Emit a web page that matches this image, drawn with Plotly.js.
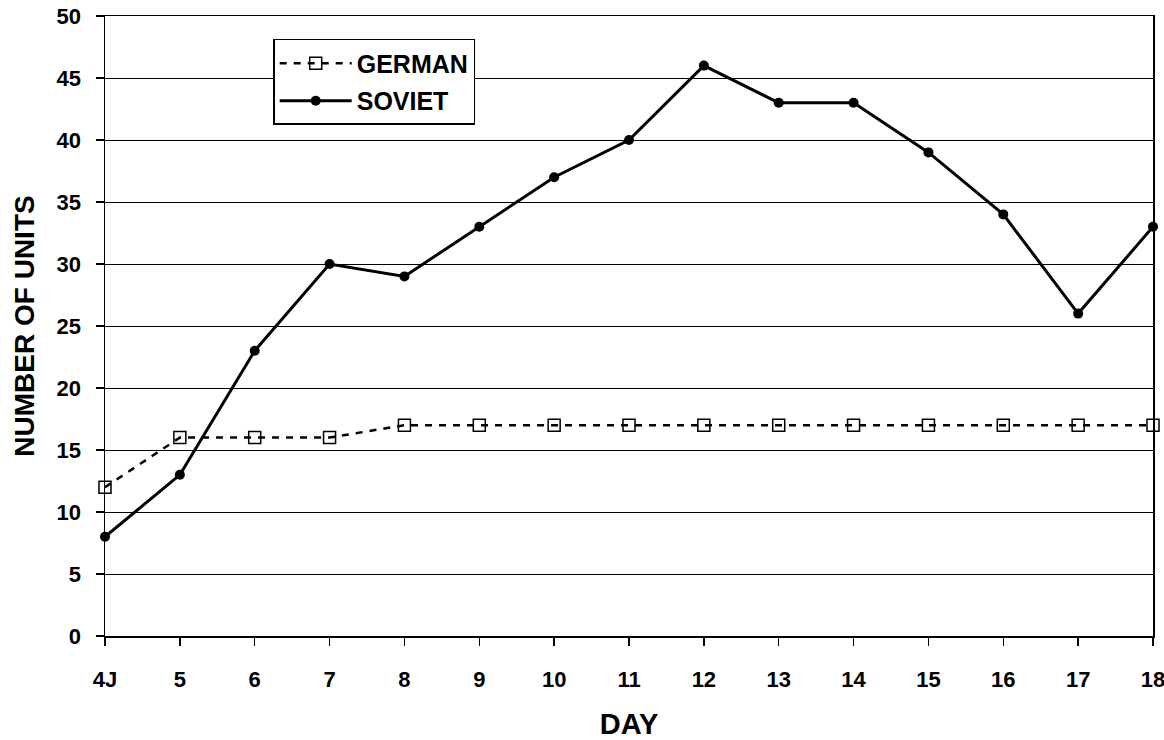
<!DOCTYPE html>
<html>
<head>
<meta charset="utf-8">
<script src="https://cdn.plot.ly/plotly-3.0.1.min.js"></script>
<style>html,body{margin:0;padding:0;background:#fff;}#chart{width:1164px;height:740px;}</style>
</head>
<body>
<div id="chart"></div>
<script>
var days = ["4J","5","6","7","8","9","10","11","12","13","14","15","16","17","18"];
var german = [12,16,16,16,17,17,17,17,17,17,17,17,17,17,17];
var soviet = [8,13,23,30,29,33,37,40,46,43,43,39,34,26,33];
var yTicks = [0,5,10,15,20,25,30,35,40,45,50];

var font = "Liberation Sans, Arial, sans-serif";
var traces = [
  {x: days, y: german, name: "GERMAN", type: "scatter", mode: "lines+markers",
   legendgroup: "g", cliponaxis: false,
   line: {color: "#000", width: 2.5, dash: "7px,7px"},
   marker: {symbol: "square-open", size: 12, color: "#000", line: {width: 1.5, color: "#000"}}},
  {x: days, y: soviet, name: "SOVIET", type: "scatter", mode: "lines+markers",
   legendgroup: "s", cliponaxis: false,
   line: {color: "#000", width: 3},
   marker: {symbol: "circle", size: 10, color: "#000"}}
];
var layout = {
  width: 1164, height: 740,
  margin: {l: 105, r: 11, t: 16, b: 104},
  paper_bgcolor: "#fff", plot_bgcolor: "#fff",
  font: {family: font, color: "#000", size: 20},
  showlegend: true,
  legend: {x: 0.1605, y: 0.963, xanchor: "left", yanchor: "top",
    bgcolor: "#fff", bordercolor: "#000", borderwidth: 1.5,
    font: {family: font, size: 25, color: "#000", weight: "bold"},
    itemwidth: 72, traceorder: "grouped", tracegroupgap: 2},
  xaxis: {type: "category", range: [0, 14], showgrid: false, zeroline: false,
    showline: true, linecolor: "#000", linewidth: 1.5, mirror: true,
    ticks: "outside", ticklen: 8, tickcolor: "#000", tickwidth: 1.5,
    ticklabelstandoff: 15,
    tickfont: {family: font, size: 22, weight: "bold"},
    title: {text: "DAY", font: {family: font, size: 29, weight: "bold"}, standoff: 30}},
  yaxis: {range: [0, 50], tickvals: yTicks, showgrid: true, gridcolor: "#000", gridwidth: 1,
    zeroline: false, showline: true, linecolor: "#000", linewidth: 1.5, mirror: true,
    ticks: "outside", ticklen: 8, tickcolor: "#000", tickwidth: 1.5,
    ticklabelstandoff: 10,
    tickfont: {family: font, size: 22, weight: "bold"},
    title: {text: "NUMBER OF UNITS", font: {family: font, size: 28, weight: "bold"}, standoff: 14}}
};
Plotly.newPlot("chart", traces, layout, {displayModeBar: false, staticPlot: true});
</script>
</body>
</html>
